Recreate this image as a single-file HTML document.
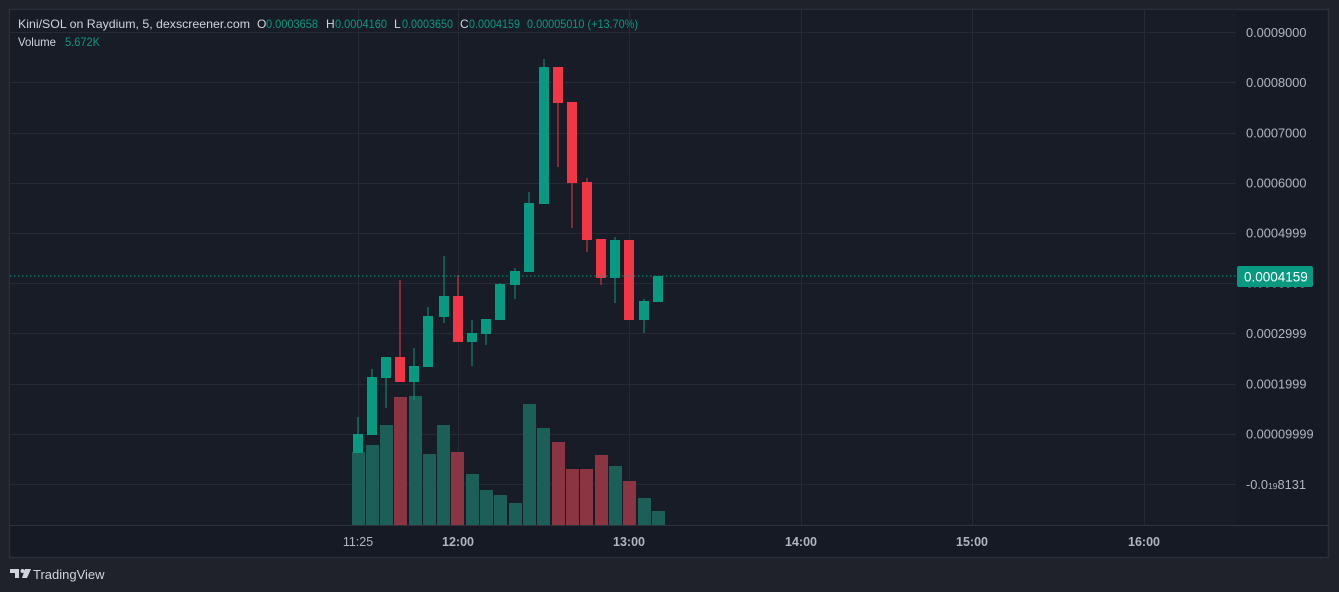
<!DOCTYPE html>
<html><head><meta charset="utf-8"><style>
html,body{margin:0;padding:0;background:#1f222b;width:1339px;height:592px;overflow:hidden}
svg{display:block}
text{font-family:"Liberation Sans","DejaVu Sans",sans-serif}
</style></head><body>
<svg width="1339" height="592" viewBox="0 0 1339 592" xmlns="http://www.w3.org/2000/svg">
<rect x="0" y="0" width="1339" height="592" fill="#1f222b"/>
<rect x="9.5" y="9.5" width="1319" height="548" fill="#161a25" stroke="#2a2e39" stroke-width="1.5"/>
<rect x="10" y="10" width="1226" height="515" fill="#181c27"/>
<g stroke="#262a35" stroke-width="1">
<line x1="10" x2="1236" y1="32.5" y2="32.5"/><line x1="10" x2="1236" y1="82.5" y2="82.5"/>
<line x1="10" x2="1236" y1="133.5" y2="133.5"/><line x1="10" x2="1236" y1="183.5" y2="183.5"/>
<line x1="10" x2="1236" y1="233.5" y2="233.5"/><line x1="10" x2="1236" y1="283.5" y2="283.5"/>
<line x1="10" x2="1236" y1="333.5" y2="333.5"/><line x1="10" x2="1236" y1="384.5" y2="384.5"/>
<line x1="10" x2="1236" y1="434.5" y2="434.5"/><line x1="10" x2="1236" y1="484.5" y2="484.5"/>
<line y1="10" y2="525" x1="358.5" x2="358.5"/><line y1="10" y2="525" x1="458.5" x2="458.5"/>
<line y1="10" y2="525" x1="629.5" x2="629.5"/><line y1="10" y2="525" x1="801.5" x2="801.5"/>
<line y1="10" y2="525" x1="972.5" x2="972.5"/><line y1="10" y2="525" x1="1144.5" x2="1144.5"/>
</g>
<line x1="10" x2="1328" y1="525.5" y2="525.5" stroke="#2e323d"/>
<g>
<g fill="#1b5f58">
<rect x="352" y="452" width="13" height="73"/><rect x="366" y="445" width="13" height="80"/>
<rect x="380" y="425" width="13" height="100"/>
<rect x="409" y="396" width="13" height="129"/><rect x="423" y="454" width="13" height="71"/>
<rect x="437" y="425" width="13" height="100"/>
<rect x="466" y="474" width="13" height="51"/><rect x="480" y="490" width="13" height="35"/>
<rect x="494" y="495" width="13" height="30"/><rect x="509" y="503" width="13" height="22"/>
<rect x="523" y="404" width="13" height="121"/><rect x="537" y="428" width="13" height="97"/>
<rect x="609" y="466" width="13" height="59"/>
<rect x="638" y="498" width="13" height="27"/><rect x="652" y="511" width="13" height="14"/>
</g>
<g fill="#8a3541">
<rect x="394" y="397" width="13" height="128"/><rect x="451" y="452" width="13" height="73"/>
<rect x="552" y="442" width="13" height="83"/><rect x="566" y="469" width="13" height="56"/>
<rect x="580" y="469" width="13" height="56"/><rect x="595" y="455" width="13" height="70"/>
<rect x="623" y="481" width="13" height="44"/>
</g>
<g fill="#089981" stroke="#089981" stroke-width="1">
<line x1="358" x2="358" y1="417" y2="453"/><rect x="353" y="434" width="10" height="19" stroke="none"/>
<line x1="372" x2="372" y1="369" y2="435"/><rect x="367" y="377" width="10" height="58" stroke="none"/>
<line x1="386" x2="386" y1="357" y2="408"/><rect x="381" y="357" width="10" height="21" stroke="none"/>
<line x1="414" x2="414" y1="348" y2="400"/><rect x="409" y="366" width="10" height="16" stroke="none"/>
<line x1="428" x2="428" y1="307" y2="367"/><rect x="423" y="316" width="10" height="51" stroke="none"/>
<line x1="444" x2="444" y1="256" y2="323"/><rect x="439" y="296" width="10" height="21" stroke="none"/>
<line x1="472" x2="472" y1="320" y2="366"/><rect x="467" y="333" width="10" height="9" stroke="none"/>
<line x1="486" x2="486" y1="319" y2="345"/><rect x="481" y="319" width="10" height="15" stroke="none"/>
<line x1="500" x2="500" y1="283" y2="320"/><rect x="495" y="284" width="10" height="36" stroke="none"/>
<line x1="515" x2="515" y1="268" y2="299"/><rect x="510" y="271" width="10" height="14" stroke="none"/>
<line x1="529" x2="529" y1="192" y2="272"/><rect x="524" y="203" width="10" height="69" stroke="none"/>
<line x1="544" x2="544" y1="59" y2="204"/><rect x="539" y="67" width="10" height="137" stroke="none"/>
<line x1="615" x2="615" y1="237" y2="303"/><rect x="610" y="240" width="10" height="38" stroke="none"/>
<line x1="644" x2="644" y1="299" y2="333"/><rect x="639" y="301" width="10" height="19" stroke="none"/>
<line x1="658" x2="658" y1="276" y2="302"/><rect x="653" y="276" width="10" height="26" stroke="none"/>
</g>
<g fill="#f23645" stroke="#f23645" stroke-width="1">
<line x1="400" x2="400" y1="280" y2="382"/><rect x="395" y="357" width="10" height="25" stroke="none"/>
<line x1="458" x2="458" y1="275" y2="342"/><rect x="453" y="296" width="10" height="46" stroke="none"/>
<line x1="558" x2="558" y1="67" y2="167"/><rect x="553" y="67" width="10" height="36" stroke="none"/>
<line x1="572" x2="572" y1="102" y2="228"/><rect x="567" y="102" width="10" height="81" stroke="none"/>
<line x1="587" x2="587" y1="178" y2="252"/><rect x="582" y="182" width="10" height="58" stroke="none"/>
<line x1="601" x2="601" y1="239" y2="285"/><rect x="596" y="239" width="10" height="39" stroke="none"/>
<rect x="624" y="240" width="10" height="80" stroke="none"/>
</g>
</g>
<line x1="10" x2="1236" y1="276" y2="276" stroke="#089981" stroke-width="1" stroke-dasharray="1.5,2.5"/>
<g fill="#b2b5be" font-size="12.8">
<text x="1246" y="37">0.0009000</text><text x="1246" y="87">0.0008000</text>
<text x="1246" y="137.5">0.0007000</text><text x="1246" y="187.5">0.0006000</text>
<text x="1246" y="237.5">0.0004999</text><text x="1246" y="287.5">0.0003999</text>
<text x="1246" y="338">0.0002999</text><text x="1246" y="388.5">0.0001999</text>
<text x="1246" y="438.5">0.00009999</text>
<text x="1246" y="489">-0.0<tspan font-size="8.5">19</tspan>8131</text>
</g>
<rect x="1237" y="266" width="76" height="21" rx="2" fill="#089981"/>
<text x="1244" y="281.5" font-size="13.5" fill="#ffffff">0.0004159</text>
<g fill="#b2b5be" font-size="12.5">
<text x="358" y="546" text-anchor="middle">11:25</text>
<text x="458" y="546" text-anchor="middle" font-weight="bold">12:00</text>
<text x="629" y="546" text-anchor="middle" font-weight="bold">13:00</text>
<text x="801" y="546" text-anchor="middle" font-weight="bold">14:00</text>
<text x="972" y="546" text-anchor="middle" font-weight="bold">15:00</text>
<text x="1144" y="546" text-anchor="middle" font-weight="bold">16:00</text>
</g>
<g font-size="12" fill="#d1d4dc">
<text x="18" y="28" textLength="232" lengthAdjust="spacingAndGlyphs">Kini/SOL on Raydium, 5, dexscreener.com</text>
<text x="257" y="28">O</text><text x="266" y="28" fill="#089981" textLength="52" lengthAdjust="spacingAndGlyphs">0.0003658</text>
<text x="326" y="28">H</text><text x="335" y="28" fill="#089981" textLength="52" lengthAdjust="spacingAndGlyphs">0.0004160</text>
<text x="394" y="28">L</text><text x="402" y="28" fill="#089981" textLength="51" lengthAdjust="spacingAndGlyphs">0.0003650</text>
<text x="460" y="28">C</text><text x="469" y="28" fill="#089981" textLength="51" lengthAdjust="spacingAndGlyphs">0.0004159</text>
<text x="527" y="28" fill="#089981" textLength="111" lengthAdjust="spacingAndGlyphs">0.00005010 (+13.70%)</text>
<text x="18" y="46" textLength="38" lengthAdjust="spacingAndGlyphs">Volume</text>
<text x="65" y="46" fill="#089981" textLength="35" lengthAdjust="spacingAndGlyphs">5.672K</text>
</g>
<g fill="#d1d4dc">
<path d="M10 569h9v9h-4v-5h-5z"/><circle cx="22.5" cy="571" r="2"/><path d="M25 569h6l-4 9h-5z"/>
</g>
<text x="33" y="579" font-size="13" fill="#d1d4dc">TradingView</text>
</svg>
</body></html>
